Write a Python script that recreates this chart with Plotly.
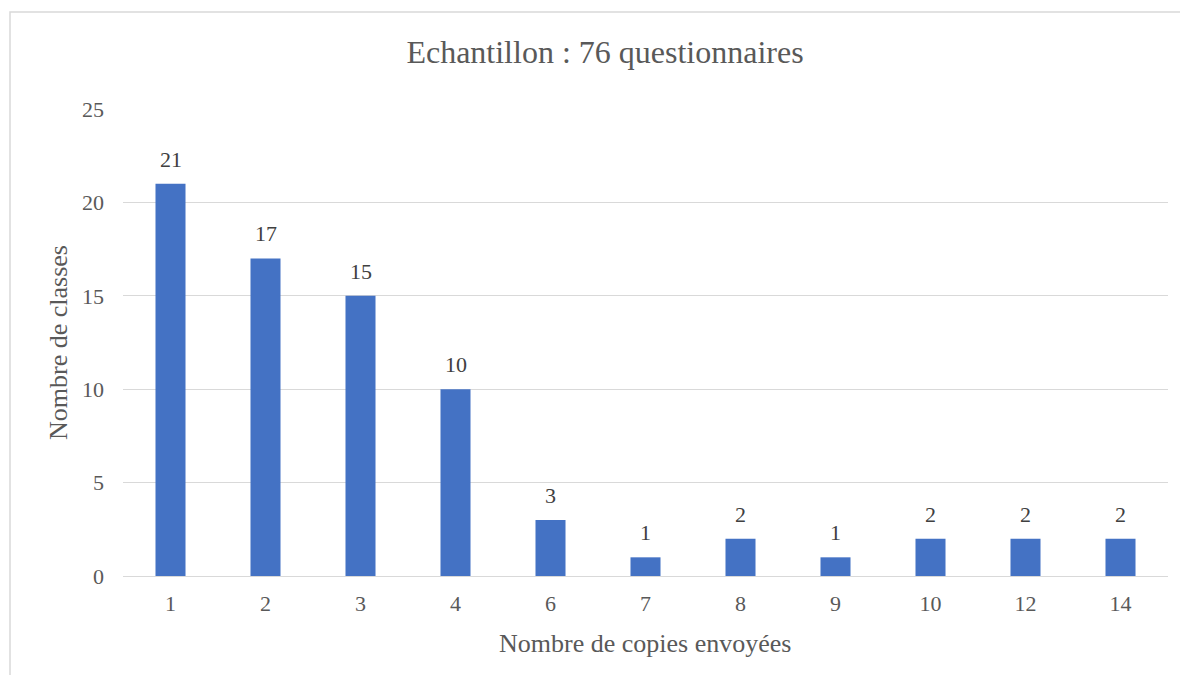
import plotly.graph_objects as go

categories = ["1", "2", "3", "4", "6", "7", "8", "9", "10", "12", "14"]
values = [21, 17, 15, 10, 3, 1, 2, 1, 2, 2, 2]
y_ticks = [0, 5, 10, 15, 20, 25]
title_text = "Echantillon : 76 questionnaires"
x_title = "Nombre de copies envoyées"
y_title = "Nombre de classes"

OFF = 8  # page margin in the browser
W, H = 1180, 667
L, R, T, B = 123 - OFF, 20, 109 - OFF, 99
pw, ph = W - L - R, H - T - B

def px_x(p):
    return (p - OFF - L) / pw

def px_y(p):
    return (H - B - (p - OFF)) / ph

font = "Liberation Serif, Times New Roman, serif"
grey = "#595959"

fig = go.Figure(go.Bar(
    x=categories, y=values,
    marker=dict(color="#4472C4", line=dict(width=0)),
    hoverinfo="x+y",
))

label_annotations = [
    dict(x=i, y=v, xref="x", yref="y", text=str(v), showarrow=False,
         yanchor="bottom", xanchor="center", yshift=10,
         font=dict(family=font, size=22, color="#404040"))
    for i, v in enumerate(values)
]

fig.update_layout(
    width=W, height=H,
    margin=dict(l=L, r=R, t=T, b=B),
    paper_bgcolor="white", plot_bgcolor="white",
    bargap=0.684,
    showlegend=False,
    title=dict(text=title_text, x=(605 - OFF) / W, xanchor="center", xref="container",
               y=1 - (52 - OFF) / H, yanchor="middle", yref="container",
               font=dict(family=font, size=32, color=grey)),
    xaxis=dict(type="category", categoryorder="array", categoryarray=categories,
               showgrid=False, showline=True, linecolor="#d9d9d9",
               linewidth=1, ticks="", tickfont=dict(family=font, size=22, color=grey),
               ticklabelstandoff=8),
    yaxis=dict(range=[0, 25], tickvals=y_ticks, showgrid=True, gridcolor="#d9d9d9",
               gridwidth=1, zeroline=False, showline=False, ticks="",
               tickfont=dict(family=font, size=22, color=grey),
               ticklabelstandoff=18),
    annotations=label_annotations + [
        dict(text=x_title, xref="paper", yref="paper", x=px_x(645), y=px_y(643),
             xanchor="center", yanchor="middle", showarrow=False,
             font=dict(family=font, size=26, color=grey)),
        dict(text=y_title, xref="paper", yref="paper", x=px_x(58), y=px_y(343),
             xanchor="center", yanchor="middle", showarrow=False, textangle=-90,
             font=dict(family=font, size=26, color=grey)),
    ],
    shapes=[dict(type="rect", xref="paper", yref="paper",
                 x0=px_x(10), y0=px_y(700), x1=px_x(1210), y1=px_y(12),
                 line=dict(color="#d9d9d9", width=1.5), layer="below")],
)

fig.write_html("out.html")
